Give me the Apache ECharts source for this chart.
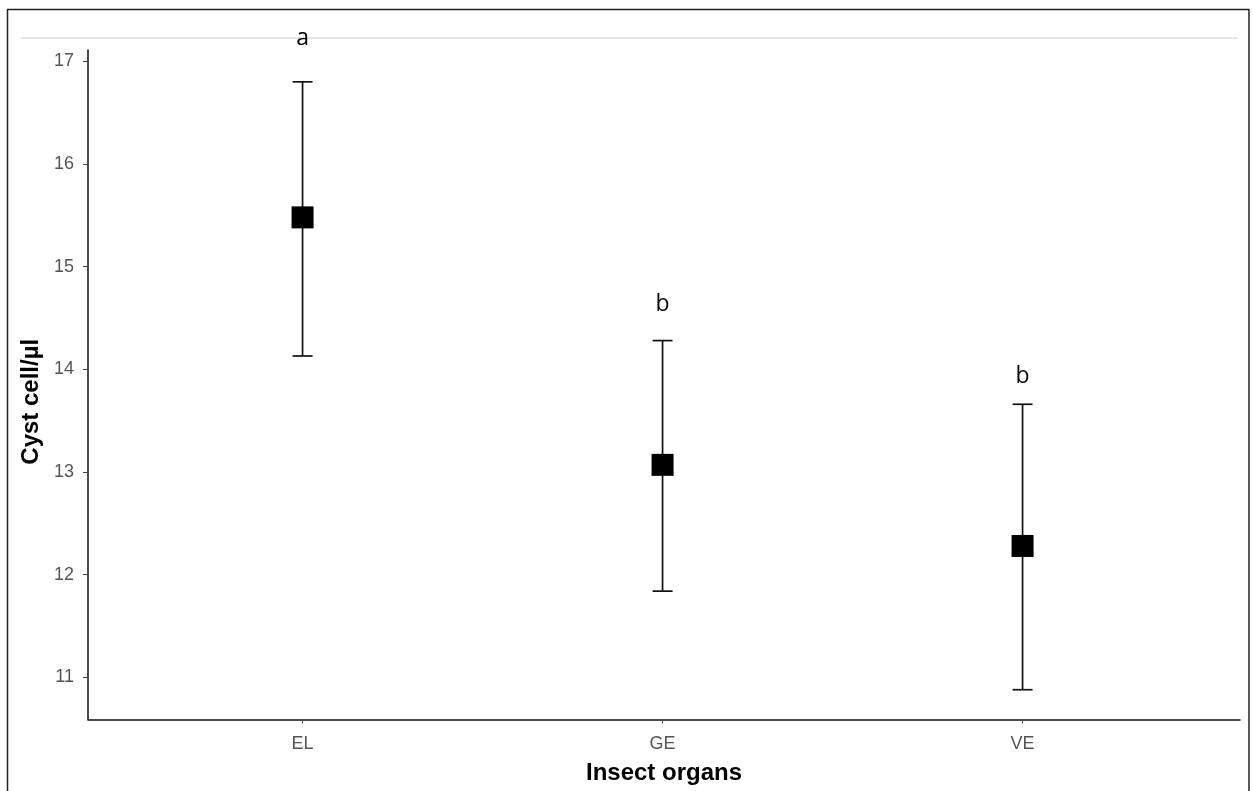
<!DOCTYPE html>
<html>
<head>
<meta charset="utf-8">
<script src="https://cdn.jsdelivr.net/npm/echarts@6/dist/echarts.min.js"></script>
<style>
html,body{margin:0;padding:0;background:#fff;}
#chart{width:1253px;height:791px;}
</style>
</head>
<body>
<div id="chart"></div>
<script>
var categories = ['EL', 'GE', 'VE'];
var means = [15.48, 13.07, 12.28];
var upper = [16.80, 14.28, 13.66];
var lower = [14.13, 11.84, 10.88];
var letters = ['a', 'b', 'b'];
var letterY = [17.22, 14.63, 13.93];
var yTicks = [11, 12, 13, 14, 15, 16, 17];
var xTicks = [1, 2, 3];

var chart = echarts.init(document.getElementById('chart'), null, {renderer: 'canvas'});

var meanData = means.map(function (v, i) { return [i + 1, v]; });
var errData = means.map(function (v, i) { return [i + 1, lower[i], upper[i]]; });
var letterData = letters.map(function (t, i) { return [i + 1, letterY[i], t]; });

var option = {
  backgroundColor: '#ffffff',
  animation: false,
  grid: {left: 88, right: 13, top: 50, bottom: 71.5, containLabel: false},
  xAxis: {
    type: 'value',
    min: 0.404,
    max: 3.604,
    name: 'Insect organs',
    nameLocation: 'middle',
    nameGap: 42,
    nameTextStyle: {fontFamily: 'Liberation Sans', fontSize: 24, fontWeight: 'bold', color: '#000'},
    splitLine: {show: false},
    axisLine: {show: true, lineStyle: {color: '#111', width: 1.5}},
    axisTick: {show: true, customValues: xTicks, length: 4, lineStyle: {color: '#444', width: 1}},
    axisLabel: {
      customValues: xTicks,
      margin: 16,
      fontFamily: 'Liberation Sans', fontSize: 18, color: '#555',
      formatter: function (v) { return categories[Math.round(v) - 1] || ''; }
    }
  },
  yAxis: {
    type: 'value',
    min: 10.59,
    max: 17.11,
    name: 'Cyst cell/µl',
    nameLocation: 'middle',
    nameGap: 38,
    nameRotate: 90,
    nameTextStyle: {fontFamily: 'Liberation Sans', fontSize: 24, fontWeight: 'bold', color: '#000',
                    padding: [0, 34, 0, 0]},
    splitLine: {show: false},
    axisLine: {show: true, lineStyle: {color: '#111', width: 1.5}},
    axisTick: {show: true, customValues: yTicks, length: 5, lineStyle: {color: '#444', width: 1}},
    axisLabel: {
      customValues: yTicks,
      margin: 14,
      fontFamily: 'Liberation Sans', fontSize: 18, color: '#555'
    }
  },
  graphic: [
    {type: 'rect', silent: true, z: 100,
     shape: {x: 7.5, y: 9.5, width: 1241.5, height: 800},
     style: {fill: null, stroke: '#222', lineWidth: 1.5}},
    {type: 'line', silent: true, z: 1,
     shape: {x1: 21, y1: 38, x2: 1238, y2: 38},
     style: {stroke: '#e6e6e6', lineWidth: 2}}
  ],
  series: [
    {
      type: 'custom',
      data: errData,
      z: 2,
      renderItem: function (params, api) {
        var x = api.value(0);
        var lo = api.coord([x, api.value(1)]);
        var hi = api.coord([x, api.value(2)]);
        var hw = 10;
        var st = {stroke: '#111', lineWidth: 1.7};
        return {
          type: 'group',
          children: [
            {type: 'line', shape: {x1: lo[0], y1: lo[1], x2: hi[0], y2: hi[1]}, style: st},
            {type: 'line', shape: {x1: hi[0] - hw, y1: hi[1], x2: hi[0] + hw, y2: hi[1]}, style: st},
            {type: 'line', shape: {x1: lo[0] - hw, y1: lo[1], x2: lo[0] + hw, y2: lo[1]}, style: st}
          ]
        };
      }
    },
    {
      type: 'scatter',
      data: meanData,
      symbol: 'rect',
      symbolSize: [22, 22],
      itemStyle: {color: '#000', opacity: 1},
      z: 3
    },
    {
      type: 'custom',
      data: letterData,
      clip: false,
      z: 4,
      renderItem: function (params, api) {
        var p = api.coord([api.value(0), api.value(1)]);
        return {
          type: 'text',
          x: p[0], y: p[1],
          style: {
            text: letters[params.dataIndex],
            fontFamily: 'Open Sans', fontSize: 23, fill: '#000',
            align: 'center', verticalAlign: 'middle'
          }
        };
      }
    }
  ]
};
chart.setOption(option);
</script>
</body>
</html>
